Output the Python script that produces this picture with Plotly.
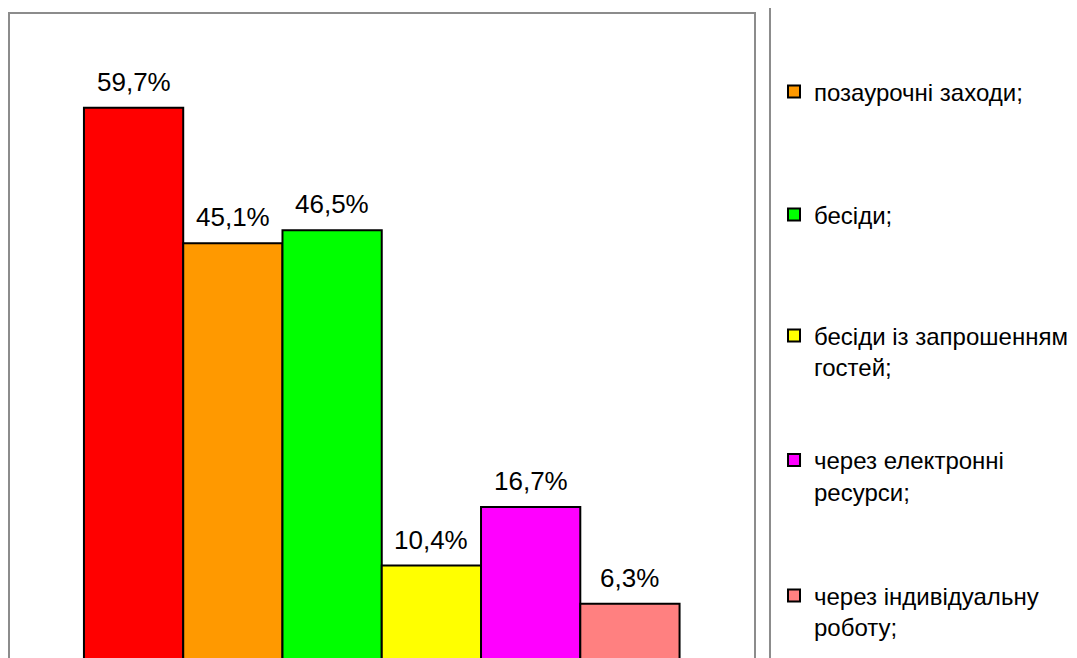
import plotly.graph_objects as go

# Data
labels = ["", "позаурочні заходи;", "бесіди;", "бесіди із запрошенням<br>гостей;",
          "через електронні<br>ресурси;", "через індивідуальну<br>роботу;"]
values = [59.7, 45.1, 46.5, 10.4, 16.7, 6.3]
colors = ["#FF0000", "#FF9900", "#00FF00", "#FFFF00", "#FF00FF", "#FF8080"]

FONT = "Arial, Liberation Sans, sans-serif"

# Legend item centres (paper coords); the first series' legend entry is cut off above the view
legend_y = [None, 0.8775, 0.6868, 0.4752, 0.2822, 0.0721]

fig = go.Figure()

for i, (name, val, col) in enumerate(zip(labels, values, colors)):
    legend_id = "legend" if i <= 1 else f"legend{i}"
    fig.add_trace(
        go.Bar(
            x=[i],
            y=[val],
            width=1,
            name=name,
            marker=dict(color=col, line=dict(color="black", width=2)),
            showlegend=i > 0,
            legend=legend_id,
            hovertemplate="%{y:.1f}%<extra></extra>",
        )
    )
    # value label above each bar
    fig.add_annotation(
        x=i, y=val, text=f"{val:.1f}%".replace(".", ","),
        showarrow=False, yanchor="bottom", yshift=9,
        font=dict(size=26, color="black", family=FONT),
    )

legend_style = dict(
    x=1.0255,
    xanchor="left",
    yanchor="middle",
    bgcolor="rgba(0,0,0,0)",
    borderwidth=0,
    valign="top",
    font=dict(size=24, color="black", family=FONT),
)

layout_legends = {}
for i in range(1, len(labels)):
    key = "legend" if i == 1 else f"legend{i}"
    layout_legends[key] = dict(legend_style, y=legend_y[i])

# page body adds an 8px offset, so the figure is 8px smaller than the window
fig.update_layout(
    width=1069,
    height=650,
    margin=dict(l=1, r=322, t=5, b=0),
    barmode="overlay",
    plot_bgcolor="white",
    paper_bgcolor="white",
    font=dict(family=FONT, color="black"),
    xaxis=dict(range=[-1.255, 6.26], showticklabels=False, showgrid=False,
               zeroline=False, showline=False),
    yaxis=dict(range=[0.45, 69.9], showticklabels=False, showgrid=False,
               zeroline=False, showline=False),
    **layout_legends,
)

# Plot area frame (bottom edge falls outside the view) and legend box edge
fig.add_shape(type="rect", xref="paper", yref="paper", x0=0, x1=1, y0=-0.05, y1=1,
              line=dict(color="#8C8C8C", width=2), layer="above")
fig.add_shape(type="line", xref="paper", yref="paper", x0=1.0201, x1=1.0201, y0=-0.05, y1=1.1,
              line=dict(color="#8C8C8C", width=2))

fig.write_html("out.html")
